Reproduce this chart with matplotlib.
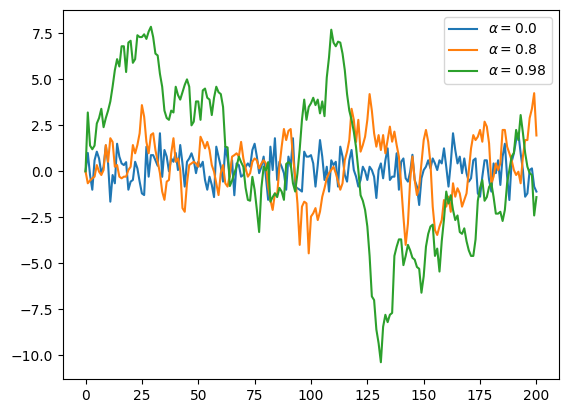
import numpy as np
import matplotlib
matplotlib.use("Agg")
import matplotlib.pyplot as plt

# AR(1) paths, one value per step (t = 0..200)
alphas = [0.0, 0.8, 0.98]

path_a00 = [0.0, 1.0, -0.2, -1.0, 0.6, 1.07, 0.7, -0.1, 0.25, 1.4,
            0.43, -1.65, -0.2, -0.65, 1.5, 0.8, 0.43, 0.34, 0.5, -1.0,
            -0.56, -0.47, 0.52, 0.16, -0.56, -1.2, -1.29, 1.34, -0.29, 0.88,
            0.88, 0.6, 0.3, 2.07, -0.3, 1.16, 0.8, 0.0, 0.7, 0.52,
            1.0, 0.07, 1.43, 0.43, -0.83, 0.52, 0.7, 0.98, 0.6, -0.1,
            0.52, 0.25, 0.52, -0.47, -1.0, -0.29, -0.74, -1.4, 1.34, 0.8,
            0.25, -0.56, 1.34, 0.7, -0.29, 0.6, -1.3, 0.43, 0.34, -0.29,
            -0.2, 0.25, 0.43, 0.25, 1.16, 1.5, 0.8, -0.1, 0.25, 0.8,
            -0.29, -1.55, 1.34, 0.07, 1.8, -0.47, 0.52, 0.25, -0.1, -1.0,
            0.8, 0.25, 1.8, -0.83, -0.92, -1.0, -1.1, 1.07, 0.8, 0.8,
            0.88, 0.43, -0.83, 0.34, 1.7, 0.8, -0.47, 0.25, -1.1, 0.6,
            0.34, 0.52, -0.83, 1.34, 0.8, -0.2, -0.56, 0.6, 1.16, 0.07,
            -0.29, -0.83, -0.47, 0.25, 0.0, -0.47, 0.25, 0.07, -0.29, -1.45,
            0.07, 0.43, -0.38, 0.6, 1.25, -0.47, -0.29, -0.29, 0.98, -1.0,
            0.52, 0.7, -0.38, -0.56, -0.02, 0.9, -0.47, -0.83, -1.83, -0.38,
            0.07, 0.25, 0.6, 0.16, 0.7, 0.43, 0.07, 0.6, 0.43, 1.25,
            0.25, -0.83, 0.43, 2.07, 1.16, 0.43, 0.8, -0.1, 0.7, -0.1,
            -0.56, -0.38, 0.6, 0.7, -1.2, -1.38, -0.29, 0.6, 0.6, -0.47,
            -1.1, 0.43, -0.1, 0.6, -0.74, 0.8, 1.5, -0.29, -1.56, 0.52,
            0.98, 1.7, 2.07, 0.98, 0.07, -1.38, -1.2, 0.07, 0.16, -0.83,
            -1.1]

path_a08 = [0.0, -0.65, -0.5, -0.38, -0.29, 0.34, -0.02, -0.2, 0.07, 1.43,
            0.52, 1.8, 1.6, 0.25, 0.34, -0.29, -0.38, -0.29, -0.29, 0.07,
            0.25, 1.43, 0.98, 1.43, 2.07, 3.6, 2.97, 1.6, 0.98, 1.98,
            2.07, 1.16, 0.52, -0.1, -1.1, -1.55, -0.56, -0.47, 0.98, 1.8,
            0.52, 0.7, 0.07, -2.0, -2.2, -0.65, 0.34, 0.43, 0.52, 0.43,
            0.25, 1.88, 1.6, 1.25, 1.6, 1.16, 0.34, -0.02, -0.65, -1.29,
            -0.1, 0.34, -0.65, -0.83, -0.2, 0.8, 0.88, 0.98, 0.8, 1.6,
            0.7, 0.16, -0.29, -0.1, 0.52, 0.7, 0.6, 0.16, 0.43, 0.6,
            0.43, -0.83, -1.55, -2.1, -1.2, -1.29, 0.25, 1.34, 2.3, 1.7,
            2.2, 2.3, 0.8, -0.29, -1.74, -4.0, -1.92, -1.65, -1.74, -4.46,
            -2.46, -2.28, -2.0, -2.65, -2.19, -1.38, -0.92, -0.38, -0.1, 0.07,
            0.25, -0.1, -0.56, -1.0, -0.65, 0.61, 1.07, 1.7, 3.4, 2.8,
            1.6, 2.8, 1.07, 1.43, 1.88, 2.8, 4.2, 3.3, 2.07, 1.34,
            1.97, 1.16, 1.97, 0.98, 1.7, 2.43, 1.61, 2.16, 1.43, 0.8,
            -0.74, -2.46, -4.0, -2.84, -0.47, 0.8, -0.47, -1.29, -0.83, 0.43,
            1.7, 2.25, 1.61, 0.43, -1.92, -3.2, -3.46, -3.0, -2.65, -1.56,
            -1.92, -1.38, -2.2, -0.65, -1.38, -0.92, -1.2, -1.92, -1.56, -1.2,
            0.0, 1.25, 1.97, 1.7, 1.88, 2.25, 1.61, 2.7, 2.43, 1.52,
            -0.65, -0.29, 0.43, 0.07, 0.43, 2.25, 2.25, 1.34, 0.98, 0.6,
            0.07, -0.2, -0.02, -0.65, 0.8, 1.7, 1.7, 2.9, 3.4, 4.25,
            1.95]

path_a098 = [0.0, 3.2, 1.4, 1.2, 1.4, 2.6, 2.9, 3.4, 2.4, 2.9,
             3.3, 3.8, 4.6, 5.5, 6.1, 5.7, 6.8, 6.8, 5.4, 7.0,
             7.1, 5.9, 6.1, 7.4, 7.3, 7.3, 7.45, 7.2, 7.6, 7.86,
             7.3, 6.4, 6.3, 5.3, 4.6, 3.3, 2.9, 2.8, 3.3, 3.2,
             4.6, 4.15, 3.9, 4.3, 4.7, 5.0, 4.6, 2.5, 2.7, 3.8,
             3.8, 2.8, 4.4, 4.5, 4.0, 3.9, 3.06, 4.0, 4.6, 4.3,
             4.2, 3.5, 1.34, 1.3, -0.8, -0.5, -0.1, 0.25, 0.8, 0.5,
             0.25, -0.9, -1.55, -1.6, -0.3, -1.0, -2.1, -3.3, -0.9, 0.25,
             0.05, 0.5, -1.65, -1.4, -1.2, -1.4, -0.9, -1.1, -1.55, 0.4,
             0.5, 0.4, -0.65, -1.1, -0.1, 1.2, 2.8, 3.9, 2.8, 3.5,
             3.7, 4.0, 3.6, 3.9, 3.15, 3.8, 3.0, 5.1, 6.2, 7.7,
             7.0, 6.8, 7.05, 7.0, 6.4, 5.5, 4.2, 3.3, 2.8, 2.15,
             1.3, 0.07, -1.3, -1.6, -2.1, -3.0, -4.6, -6.8, -7.0, -8.6,
             -9.35, -10.38, -8.45, -7.8, -8.2, -7.8, -7.7, -4.6, -4.1, -3.7,
             -3.7, -5.1, -4.6, -4.0, -4.3, -4.7, -4.8, -5.2, -5.3, -6.6,
             -5.7, -4.1, -3.4, -3.0, -2.9, -4.6, -4.2, -5.45, -3.8, -2.6,
             -1.1, -1.75, -1.3, -2.1, -2.65, -2.4, -3.3, -3.4, -3.1, -3.8,
             -4.3, -4.6, -4.6, -3.7, -1.6, -0.9, -0.47, -1.6, -1.4, -0.85,
             -0.65, -1.4, -2.3, -2.3, -2.2, -2.7, -2.1, -0.65, 0.07, 0.8,
             1.0, 2.25, 1.7, 3.06, 2.1, 1.0, 0.25, -0.1, -0.2, -2.4,
             -1.4]

paths = [path_a00, path_a08, path_a098]

fig = plt.figure(figsize=(5.68, 4.13), dpi=100)
ax = fig.add_axes([0.1109, 0.0823, 0.8732, 0.8935])

for a, y in zip(alphas, paths):
    t = np.arange(len(y))
    ax.plot(t, y, label=r"$\alpha = $" + str(a))

ax.legend(loc="upper right")

fig.savefig("out.png", dpi=100)
plt.close()
